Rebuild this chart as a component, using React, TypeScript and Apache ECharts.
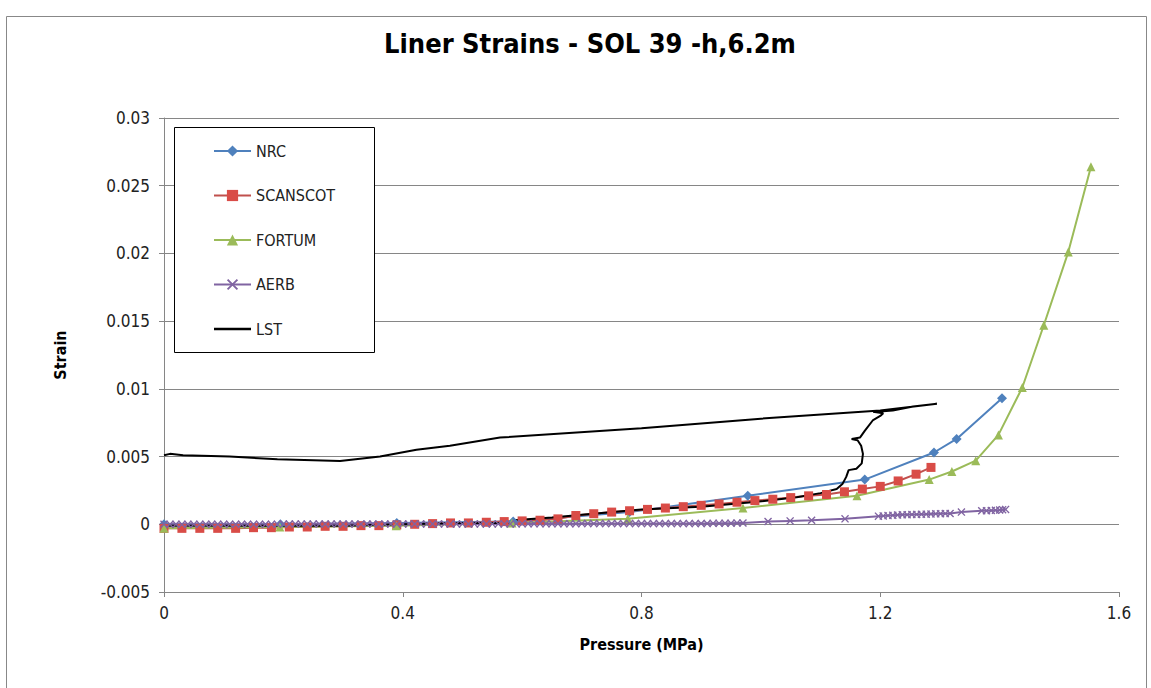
import React, { useEffect, useRef } from "react";
import * as echarts from "echarts";

const TITLE = "Liner Strains - SOL 39 -h,6.2m";
const X_TITLE = "Pressure (MPa)";
const Y_TITLE = "Strain";
const SERIES_NAMES = ["NRC", "SCANSCOT", "FORTUM", "AERB", "LST"];
const COLORS = ["#4F81BD", "#C0504D", "#9BBB59", "#8064A2", "#000000"];
const X_TICKS = [0, 0.4, 0.8, 1.2, 1.6];
const Y_TICKS = [-0.005, 0, 0.005, 0.01, 0.015, 0.02, 0.025, 0.03];

const NRC_P = [0, 0.195, 0.39, 0.585, 0.78, 0.978, 1.174, 1.29, 1.328, 1.404];
const NRC_S = [0, 0, 0.0001, 0.0002, 0.0009, 0.0021, 0.0033, 0.0053, 0.0063, 0.0093];

const SCANSCOT_P = [
  0, 0.03, 0.06, 0.09, 0.12, 0.15, 0.18, 0.21, 0.24, 0.27, 0.3, 0.33, 0.36, 0.39, 0.42,
  0.45, 0.48, 0.51, 0.54, 0.57, 0.6, 0.63, 0.66, 0.69, 0.72, 0.75, 0.78, 0.81, 0.84,
  0.87, 0.9, 0.93, 0.96, 0.99, 1.02, 1.05, 1.08, 1.11, 1.14, 1.17, 1.2, 1.23, 1.26, 1.285,
];
const SCANSCOT_S = [
  -0.0003, -0.0003, -0.0003, -0.0003, -0.0003, -0.00025, -0.00025, -0.0002, -0.0002,
  -0.00015, -0.00015, -0.0001, -0.0001, -0.00005, 0, 0.00005, 0.0001, 0.0001, 0.00015,
  0.0002, 0.00025, 0.0003, 0.0004, 0.00065, 0.00078, 0.0009, 0.001, 0.0011, 0.0012,
  0.0013, 0.0014, 0.0015, 0.00163, 0.00175, 0.00185, 0.00197, 0.0021, 0.0022, 0.0024,
  0.0026, 0.0028, 0.0032, 0.0037, 0.0042,
];

const FORTUM_P = [0, 0.194, 0.389, 0.583, 0.777, 0.97, 1.161, 1.282, 1.32, 1.36, 1.398, 1.438, 1.474, 1.515, 1.553];
const FORTUM_S = [-0.0003, -0.0002, -0.0001, 0.0001, 0.0004, 0.0012, 0.0021, 0.0033, 0.0039, 0.0047, 0.0066, 0.0101, 0.0147, 0.0201, 0.0264];

const AERB_P = [
  0, 0.01, 0.02, 0.03, 0.04, 0.05, 0.06, 0.07, 0.08, 0.09,
  0.1, 0.11, 0.12, 0.13, 0.14, 0.15, 0.16, 0.17, 0.18, 0.19,
  0.2, 0.21, 0.22, 0.23, 0.24, 0.25, 0.26, 0.27, 0.28, 0.29,
  0.3, 0.31, 0.32, 0.33, 0.34, 0.35, 0.36, 0.37, 0.38, 0.39,
  0.4, 0.41, 0.42, 0.43, 0.44, 0.45, 0.46, 0.47, 0.48, 0.49,
  0.5, 0.51, 0.52, 0.53, 0.54, 0.55, 0.56, 0.57, 0.58, 0.59,
  0.6, 0.61, 0.62, 0.63, 0.64, 0.65, 0.66, 0.67, 0.68, 0.69,
  0.7, 0.71, 0.72, 0.73, 0.74, 0.75, 0.76, 0.77, 0.78, 0.79,
  0.8, 0.81, 0.82, 0.83, 0.84, 0.85, 0.86, 0.87, 0.88, 0.89,
  0.9, 0.91, 0.92, 0.93, 0.94, 0.95, 0.96, 0.97,
  1.012, 1.049, 1.085, 1.141, 1.197,
  1.205, 1.213, 1.221, 1.229, 1.237, 1.245, 1.253, 1.261, 1.269, 1.277, 1.285, 1.293, 1.301, 1.309, 1.317,
  1.336, 1.37, 1.378, 1.386, 1.393, 1.4, 1.405, 1.41,
];
const AERB_S = [
  0, 0, 0, 0, 0, 0, 0, 0, 0, 0,
  0, 0, 0, 0, 0, 0, 0, 0, 0, 0,
  0.00002, 0.00002, 0.00002, 0.00002, 0.00002, 0.00002, 0.00002, 0.00002, 0.00002, 0.00002,
  0.00002, 0.00002, 0.00002, 0.00002, 0.00002, 0.00002, 0.00002, 0.00002, 0.00002, 0.00002,
  0.00003, 0.00003, 0.00003, 0.00003, 0.00003, 0.00003, 0.00003, 0.00003, 0.00003, 0.00003,
  0.00003, 0.00003, 0.00003, 0.00003, 0.00003, 0.00003, 0.00003, 0.00003, 0.00003, 0.00003,
  0.00004, 0.00004, 0.00004, 0.00004, 0.00004, 0.00004, 0.00004, 0.00004, 0.00004, 0.00004,
  0.00005, 0.00005, 0.00005, 0.00005, 0.00005, 0.00005, 0.00005, 0.00005, 0.00005, 0.00005,
  0.00005, 0.00005, 0.00005, 0.00005, 0.00005, 0.00005, 0.00005, 0.00005, 0.00005, 0.00005,
  0.00006, 0.00006, 0.00007, 0.00007, 0.00008, 0.00008, 0.00009, 0.0001,
  0.0002, 0.00025, 0.0003, 0.0004, 0.0006,
  0.00062, 0.00064, 0.00066, 0.00068, 0.0007, 0.00071, 0.00072, 0.00073, 0.00074, 0.00075, 0.00076, 0.00077, 0.00078, 0.00079, 0.0008,
  0.0009, 0.001, 0.001, 0.00102, 0.00104, 0.00106, 0.00108, 0.0011,
];

const LST_P = [
  0, 0.1, 0.2, 0.3, 0.4, 0.5, 0.58, 0.585, 0.65, 0.7, 0.8, 0.9, 0.98, 1.06, 1.1, 1.127,
  1.137, 1.143, 1.147, 1.16, 1.169, 1.171, 1.168, 1.162, 1.152, 1.166, 1.174, 1.188,
  1.2, 1.205, 1.188, 1.221, 1.255, 1.295,
  1.2, 1.0, 0.8, 0.563, 0.479, 0.423, 0.362, 0.295, 0.19, 0.11, 0.032, 0.01, 0,
];
const LST_S = [
  -0.0001, -0.0001, -0.0001, -0.0001, 0, 0.0001, 0.0001, 0.0003, 0.0005, 0.0007, 0.0011,
  0.0013, 0.0016, 0.002, 0.0023, 0.0026, 0.003, 0.0035, 0.004, 0.0041, 0.0045, 0.0052,
  0.0058, 0.0062, 0.0063, 0.0064, 0.0069, 0.0077, 0.008, 0.0082, 0.0083, 0.0084, 0.0087,
  0.0089,
  0.0084, 0.0078, 0.0071, 0.0064, 0.0058, 0.0055, 0.005, 0.00467, 0.0048, 0.005, 0.0051,
  0.0052, 0.0051,
];

const pairs = (p: number[], s: number[]) => p.map((v, i) => [v, s[i]]);

const CROSS = "path://M0,1.2L1.2,0L5,3.8L8.8,0L10,1.2L6.2,5L10,8.8L8.8,10L5,6.2L1.2,10L0,8.8L3.8,5Z";
const LINE_ICON = "path://M0,3.8L37,3.8L37,6.2L0,6.2Z";

const FONT = "'Liberation Sans Narrow', 'DejaVu Sans Condensed', 'Open Sans', sans-serif";

export default function App() {
  const ref = useRef<HTMLDivElement>(null);
  useEffect(() => {
    if (!ref.current) return;
    const chart = echarts.init(ref.current, undefined, { renderer: "svg" });
    const mk = (i: number, data: number[][], extra: any) => ({
      name: SERIES_NAMES[i],
      type: "line",
      data,
      lineStyle: { color: COLORS[i], width: 2 },
      itemStyle: { color: COLORS[i] },
      ...extra,
    });
    chart.setOption({
      animation: false,
      backgroundColor: "#ffffff",
      textStyle: { fontFamily: FONT },
      title: {
        text: TITLE,
        left: 585,
        top: 25,
        textAlign: "center",
        textStyle: { fontFamily: FONT, fontWeight: "bold", fontSize: 27, color: "#000" },
      },
      graphic: [
        {
          type: "rect",
          shape: { x: 6.5, y: 16.5, width: 1140, height: 700 },
          style: { fill: "none", stroke: "#888", lineWidth: 1 },
          silent: true,
          z: 1,
        },
        {
          type: "rect",
          shape: { x: 174.5, y: 127.5, width: 200, height: 225 },
          style: { fill: "#fff", stroke: "#000", lineWidth: 1 },
          silent: true,
          z: 3,
        },
      ],
      legend: {
        orient: "vertical",
        left: 213,
        top: 143,
        padding: 0,
        itemGap: 28.5,
        itemWidth: 37,
        itemHeight: 14,
        z: 5,
        data: [
          SERIES_NAMES[0],
          SERIES_NAMES[1],
          SERIES_NAMES[2],
          SERIES_NAMES[3],
          { name: SERIES_NAMES[4], icon: LINE_ICON, itemStyle: { color: "#000" } },
        ],
        textStyle: { fontFamily: FONT, fontSize: 16, color: "#222" },
      },
      grid: { left: 164, right: 32, top: 118, bottom: 96, containLabel: false },
      xAxis: {
        type: "value",
        min: X_TICKS[0],
        max: X_TICKS[X_TICKS.length - 1],
        interval: 0.4,
        name: X_TITLE,
        nameLocation: "middle",
        nameGap: 44,
        nameTextStyle: { fontFamily: FONT, fontWeight: "bold", fontSize: 16, color: "#000" },
        axisLine: { show: true, onZero: false, lineStyle: { color: "#868686" } },
        axisTick: { show: true, length: 5, lineStyle: { color: "#868686" } },
        axisLabel: { margin: 12, fontSize: 17, color: "#222", fontFamily: FONT },
        splitLine: { show: false },
      },
      yAxis: {
        type: "value",
        min: Y_TICKS[0],
        max: Y_TICKS[Y_TICKS.length - 1],
        interval: 0.005,
        name: Y_TITLE,
        nameLocation: "middle",
        nameRotate: 90,
        nameGap: 96,
        nameTextStyle: { fontFamily: FONT, fontWeight: "bold", fontSize: 16, color: "#000" },
        axisLine: { show: true, onZero: false, lineStyle: { color: "#868686" } },
        axisTick: { show: true, length: 5, lineStyle: { color: "#868686" } },
        axisLabel: { margin: 14, fontSize: 17, color: "#222", fontFamily: FONT },
        splitLine: { show: true, lineStyle: { color: "#868686", width: 1 } },
      },
      series: [
        mk(0, pairs(NRC_P, NRC_S), { symbol: "diamond", symbolSize: 10 }),
        mk(1, pairs(SCANSCOT_P, SCANSCOT_S), { symbol: "rect", symbolSize: 9, itemStyle: { color: "#D94C47" } }),
        mk(2, pairs(FORTUM_P, FORTUM_S), { symbol: "triangle", symbolSize: 9 }),
        mk(3, pairs(AERB_P, AERB_S), { symbol: CROSS, symbolSize: 8 }),
        mk(4, pairs(LST_P, LST_S), { symbol: "none", lineStyle: { color: "#000", width: 2 } }),
      ],
    });
    return () => chart.dispose();
  }, []);
  return (
    <div
      ref={ref}
      style={{ position: "fixed", left: 0, top: 0, width: 1151, height: 688, background: "#fff" }}
    />
  );
}
